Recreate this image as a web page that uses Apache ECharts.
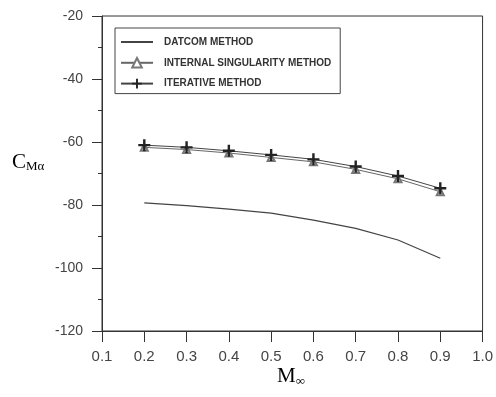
<!DOCTYPE html>
<html>
<head>
<meta charset="utf-8">
<script src="https://cdn.jsdelivr.net/npm/echarts@6/dist/echarts.min.js"></script>
<style>
  html, body { margin: 0; padding: 0; background: #fff; }
  #main { width: 496px; height: 397px; }
</style>
</head>
<body>
<div id="main"></div>
<script>
// Mach number
var mach = [0.2, 0.3, 0.4, 0.5, 0.6, 0.7, 0.8, 0.9];
// C_Mα values per method
var datcom = [-79.3, -80.2, -81.3, -82.6, -84.8, -87.4, -91.1, -96.9];
var singularity = [-61.7, -62.4, -63.5, -64.9, -66.3, -68.7, -71.7, -75.8];
var iterative = [-61.0, -61.7, -62.8, -64.1, -65.5, -67.8, -70.8, -74.7];

var names = ['DATCOM METHOD', 'INTERNAL SINGULARITY METHOD', 'ITERATIVE METHOD'];

function pairs(ys) {
    return mach.map(function (x, i) { return [x, ys[i]]; });
}

var cross = 'path://M4,0h2v4h4v2h-4v4h-2v-4h-4v-2h4z';

var chart = echarts.init(document.getElementById('main'));
var option = {
    animation: false,
    backgroundColor: '#fff',
    grid: {
        left: 102, right: 12, top: 16, bottom: 66,
        show: true, borderColor: '#333', borderWidth: 1
    },
    legend: {
        orient: 'vertical',
        left: 115, top: 28,
        padding: [9, 9, 5, 5],
        borderColor: '#444', borderWidth: 1,
        itemWidth: 32, itemHeight: 12, itemGap: 10,
        textStyle: {
            fontFamily: 'Liberation Sans', fontWeight: 'bold', fontSize: 10, color: '#333',
            padding: [0, 0, 0, 6]
        },
        data: [
            { name: names[0], itemStyle: { opacity: 0 } },
            names[1],
            names[2]
        ]
    },
    xAxis: {
        type: 'value',
        min: 0.1, max: 1.0, interval: 0.1,
        axisLine: { lineStyle: { color: '#333' } },
        axisTick: { length: 11, lineStyle: { color: '#333' } },
        splitLine: { show: false },
        axisLabel: {
            margin: 18, fontSize: 15, color: '#444', fontFamily: 'Liberation Sans',
            formatter: function (v) { return v.toFixed(1); }
        }
    },
    yAxis: {
        type: 'value',
        min: -120, max: -20, interval: 20,
        axisLine: { show: true, lineStyle: { color: '#333' } },
        axisTick: { show: true, length: 10, lineStyle: { color: '#333' } },
        minorTick: { show: true, splitNumber: 2, length: 4, lineStyle: { color: '#333' } },
        splitLine: { show: false },
        axisLabel: { margin: 19, fontSize: 14, color: '#444', fontFamily: 'Liberation Sans' }
    },
    graphic: [
        {
            type: 'text', left: 12, top: 152,
            style: {
                text: '{a|C}{b|Mα}',
                rich: {
                    a: { fontFamily: 'Liberation Serif', fontSize: 21, color: '#333' },
                    b: { fontFamily: 'Liberation Serif', fontSize: 13, color: '#333', verticalAlign: 'bottom', padding: [8, 0, 0, 0] }
                }
            }
        },
        {
            type: 'text', left: 277, top: 366,
            style: {
                text: '{a|M}{b|∞}',
                rich: {
                    a: { fontFamily: 'Liberation Serif', fontSize: 21, color: '#333' },
                    b: { fontFamily: 'Liberation Serif', fontSize: 13, color: '#333', verticalAlign: 'bottom', padding: [10, 0, 0, 0] }
                }
            }
        }
    ],
    series: [
        {
            name: names[0], type: 'line', data: pairs(datcom),
            symbol: 'none', smooth: false,
            itemStyle: { color: '#444' },
            lineStyle: { color: '#444', width: 1.2 }
        },
        {
            name: names[1], type: 'line', data: pairs(singularity),
            symbol: 'emptyTriangle', symbolSize: 7,
            itemStyle: { color: '#777', borderWidth: 1 },
            lineStyle: { color: '#666', width: 1 }
        },
        {
            name: names[2], type: 'line', data: pairs(iterative),
            symbol: cross, symbolSize: 12,
            itemStyle: { color: '#222' },
            lineStyle: { color: '#444', width: 1 }
        }
    ]
};
chart.setOption(option);
</script>
</body>
</html>
